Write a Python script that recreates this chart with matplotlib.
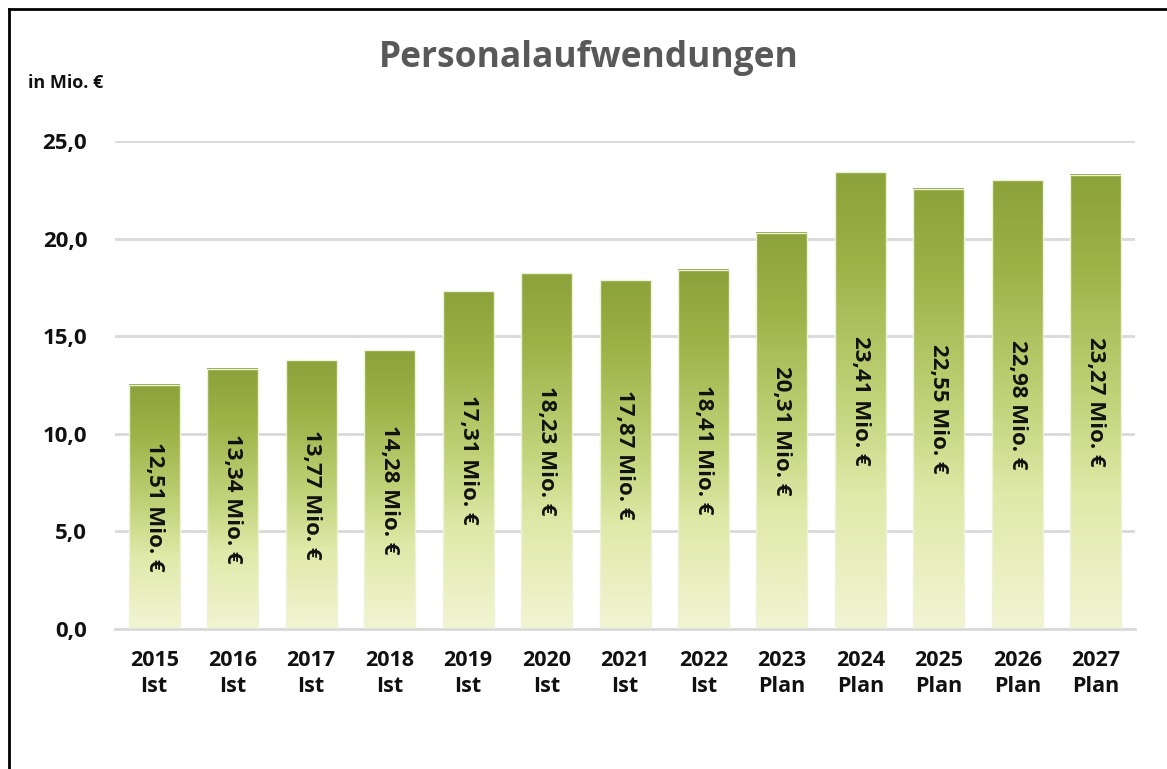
import numpy as np
import matplotlib.pyplot as plt
from matplotlib.colors import LinearSegmentedColormap
from matplotlib.lines import Line2D

# Personalaufwendungen in Mio. €
years = ["2015", "2016", "2017", "2018", "2019", "2020", "2021",
         "2022", "2023", "2024", "2025", "2026", "2027"]
kind = ["Ist"] * 8 + ["Plan"] * 5
values = [12.51, 13.34, 13.77, 14.28, 17.31, 18.23, 17.87,
          18.41, 20.31, 23.41, 22.55, 22.98, 23.27]

font = ["Open Sans", "DejaVu Sans"]
plt.rcParams["font.family"] = font

W, H = 1167, 769
fig = plt.figure(figsize=(W / 100, H / 100), dpi=100)
ax = fig.add_axes([115 / W, (H - 629) / H, 1020 / W, 488 / H])

# vertical gradient, pale at the bottom, olive at the top
cmap = LinearSegmentedColormap.from_list(
    "olive", [(0.0, "#f2f5d3"), (0.3, "#dfe9a8"), (0.5, "#c2d37a"),
              (0.8, "#9db247"), (1.0, "#8ca23a")])
grad = np.linspace(0, 1, 256).reshape(-1, 1)

x = np.arange(len(values))
width = 0.65
for xi, v in zip(x, values):
    ax.imshow(grad, cmap=cmap, origin="lower", aspect="auto",
              extent=[xi - width / 2, xi + width / 2, 0, v], zorder=2)
    ax.add_patch(plt.Rectangle((xi - width / 2, 0), width, v, fill=False,
                               edgecolor="#eef2d8", lw=1, zorder=3))
    label = f"{v:.2f}".replace(".", ",") + " Mio. €"
    ax.text(xi, v / 2, label, rotation=-90, ha="center", va="center",
            fontsize=16, fontweight="bold", color="#111111", zorder=4)

ax.set_xlim(-0.5, len(values) - 0.5)
ax.set_ylim(0, 25)
ax.set_yticks(np.arange(0, 26, 5))
ax.set_yticklabels([f"{t:.1f}".replace(".", ",") for t in np.arange(0, 26, 5)])
ax.set_xticks(x)
ax.set_xticklabels([f"{y}\n{k}" for y, k in zip(years, kind)], linespacing=1.3)
ax.tick_params(axis="x", length=0, labelsize=15.5, pad=15)
ax.tick_params(axis="y", length=0, labelsize=16, pad=20)
for lab in ax.get_xticklabels() + ax.get_yticklabels():
    lab.set_fontweight("bold")
    lab.set_color("#111111")

ax.grid(axis="y", color="#d9d9d9", lw=2, zorder=0)
ax.set_axisbelow(True)
for s in ["top", "right", "left"]:
    ax.spines[s].set_visible(False)
ax.spines["bottom"].set_color("#d9d9d9")
ax.spines["bottom"].set_linewidth(2)

fig.text(589 / W, 1 - 58 / H, "Personalaufwendungen", ha="center", va="center",
         fontsize=25.5, fontweight="bold", color="#595959")
fig.text(28 / W, 1 - 83 / H, "in Mio. €", ha="left", va="center",
         fontsize=13, fontweight="bold", color="#111111")

# frame around the chart
fig.add_artist(Line2D([9 / W, 9 / W], [0, 1 - 9 / H], color="black", lw=2))
fig.add_artist(Line2D([9 / W, 1], [1 - 9 / H, 1 - 9 / H], color="black", lw=2))

fig.savefig("out.png", dpi=100)
